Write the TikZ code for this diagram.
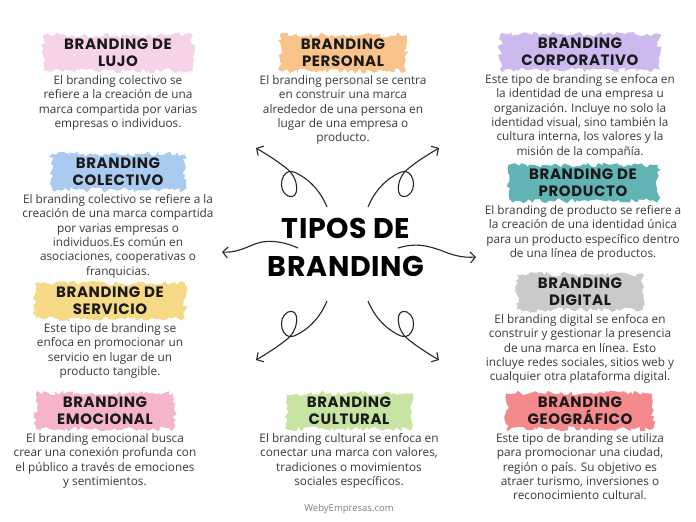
\documentclass[tikz,border=0pt]{standalone}
\usepackage{fontspec}
\setmainfont{Open Sans}
\newfontfamily\headfont{Poppins}[LetterSpace=4]
\newfontfamily\titlefont{Poppins}[LetterSpace=2]
\usetikzlibrary{positioning,decorations.pathmorphing,arrows.meta}

\definecolor{lujo}{HTML}{F7D3EA}
\definecolor{personal}{HTML}{F8C48C}
\definecolor{corporativo}{HTML}{CDB9EE}
\definecolor{colectivo}{HTML}{A8CBEF}
\definecolor{producto}{HTML}{62B3B3}
\definecolor{servicio}{HTML}{F7DA87}
\definecolor{digital}{HTML}{CACACA}
\definecolor{emocional}{HTML}{F5B4C9}
\definecolor{cultural}{HTML}{C7E4A3}
\definecolor{geografico}{HTML}{F48A8C}
\definecolor{textgray}{HTML}{3A3A3A}

\tikzset{
  brush/.style={
    fill=#1,
    decorate,
    decoration={random steps,segment length=3pt,amplitude=2.5pt},
    inner xsep=21pt,
    inner ysep=4pt,
    align=center,
    text=black!90,
    font=\headfont\bfseries\fontsize{15}{17}\selectfont,
  },
  desc/.style={
    align=center,
    inner sep=0pt,
    text=textgray,
    font=\fontsize{11.8}{14.4}\selectfont,
  },
  curl/.style={line width=1.1pt, draw=black!85, -{Straight Barb[length=5pt,width=11pt]}},
}

\begin{document}
\begin{tikzpicture}[x=1pt, y=-1pt]
            \pgfmathsetseed{7}
            \useasboundingbox[fill=white] (0,0) rectangle (696,522);

            % title
            \node[font=\titlefont\bfseries\fontsize{28.5}{38}\selectfont, align=center] (T) at (346,247) {TIPOS DE\\BRANDING};

            % headers
            \node[brush=lujo] (H_1) at (118,53) {BRANDING DE\\LUJO};
            \node[brush=personal] (H_2) at (343,53) {BRANDING\\PERSONAL};
            \node[brush=corporativo] (H_3) at (580,52) {BRANDING\\CORPORATIVO};
            \node[brush=colectivo] (H_4) at (118,172) {BRANDING\\COLECTIVO};
            \node[brush=producto] (H_5) at (583,183) {BRANDING DE\\PRODUCTO};
            \node[brush=servicio] (H_6) at (110,301) {BRANDING DE\\SERVICIO};
            \node[brush=digital] (H_7) at (580,292) {BRANDING\\DIGITAL};
            \node[brush=emocional] (H_8) at (105,411) {BRANDING\\EMOCIONAL};
            \node[brush=cultural] (H_9) at (349,411) {BRANDING\\CULTURAL};
            \node[brush=geografico] (H_10) at (580,411) {BRANDING\\GEOGRÁFICO};

            % descriptions
            \node[desc, below=4pt of H_1] (D_1) {El branding colectivo se\\refiere a la creación de una\\marca compartida por varias\\empresas o individuos.};
            \node[desc, below=4pt of H_2] (D_2) {El branding personal se centra\\en construir una marca\\alrededor de una persona en\\lugar de una empresa o\\producto.};
            \node[desc, below=4pt of H_3] (D_3) {Este tipo de branding se enfoca en\\la identidad de una empresa u\\organización. Incluye no solo la\\identidad visual, sino también la\\cultura interna, los valores y la\\misión de la compañía.};
            \node[desc, below=4pt of H_4] (D_4) {El branding colectivo se refiere a la\\creación de una marca compartida\\por varias empresas o\\individuos.Es común en\\asociaciones, cooperativas o\\franquicias.};
            \node[desc, below=4pt of H_5] (D_5) {El branding de producto se refiere a\\la creación de una identidad única\\para un producto específico dentro\\de una línea de productos.};
            \node[desc, below=4pt of H_6] (D_6) {Este tipo de branding se\\enfoca en promocionar un\\servicio en lugar de un\\producto tangible.};
            \node[desc, below=4pt of H_7] (D_7) {El branding digital se enfoca en\\construir y gestionar la presencia\\de una marca en línea. Esto\\incluye redes sociales, sitios web y\\cualquier otra plataforma digital.};
            \node[desc, below=4pt of H_8] (D_8) {El branding emocional busca\\crear una conexión profunda con\\el público a través de emociones\\y sentimientos.};
            \node[desc, below=4pt of H_9] (D_9) {El branding cultural se enfoca en\\conectar una marca con valores,\\tradiciones o movimientos\\sociales específicos.};
            \node[desc, below=4pt of H_10] (D_10) {Este tipo de branding se utiliza\\para promocionar una ciudad,\\región o país. Su objetivo es\\atraer turismo, inversiones o\\reconocimiento cultural.};

            \node[text=black!50, font=\fontsize{9.5}{11}\selectfont] (F) at (349,509) {WebyEmpresas.com};

            % arrows
            \coordinate (A_1) at (327,207); \coordinate (B_1) at (256,148);
            \coordinate (A_2) at (368,207); \coordinate (B_2) at (439,148);
            \coordinate (A_3) at (327,301); \coordinate (B_3) at (256,360);
            \coordinate (A_4) at (368,301); \coordinate (B_4) at (439,360);
            \coordinate (A_5) at (298,248); \coordinate (B_5) at (222,252);
            \coordinate (A_6) at (398,248); \coordinate (B_6) at (476,257);

            \draw[curl] (A_1) .. controls (320,190) and (308,178) .. (294,172) .. controls (282,167) and (276,190) .. (288,196) .. controls (300,201) and (300,178) .. (286,168) .. controls (276,160) and (266,154) .. (B_1);
            \draw[curl] (A_2) .. controls (375,190) and (387,178) .. (401,172) .. controls (413,167) and (419,190) .. (407,196) .. controls (395,201) and (395,178) .. (409,168) .. controls (419,160) and (429,154) .. (B_2);
            \draw[curl] (A_3) .. controls (320,318) and (308,330) .. (294,336) .. controls (282,341) and (276,318) .. (288,312) .. controls (300,307) and (300,330) .. (286,340) .. controls (276,348) and (266,354) .. (B_3);
            \draw[curl] (A_4) .. controls (375,318) and (387,330) .. (401,336) .. controls (413,341) and (419,318) .. (407,312) .. controls (395,307) and (395,330) .. (409,340) .. controls (419,348) and (429,354) .. (B_4);
            \draw[curl] (A_5) .. controls (280,240) and (265,240) .. (255,244) .. controls (245,248) and (235,253) .. (B_5);
            \draw[curl] (A_6) .. controls (415,243) and (425,245) .. (440,250) .. controls (452,255) and (462,258) .. (B_6);
\end{tikzpicture}
\end{document}
